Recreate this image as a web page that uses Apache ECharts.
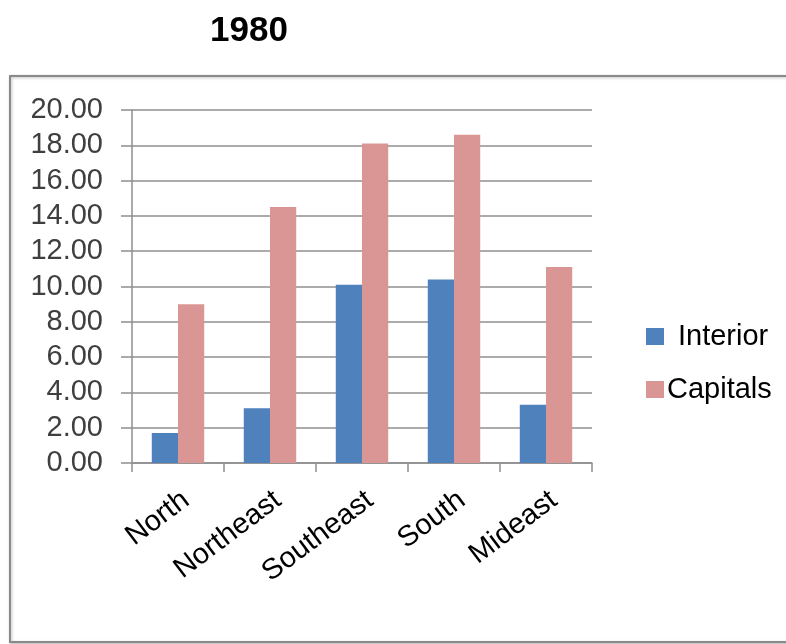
<!DOCTYPE html>
<html>
<head>
<meta charset="utf-8">
<script src="https://cdn.jsdelivr.net/npm/echarts@6/dist/echarts.min.js"></script>
<style>
  html, body { margin: 0; padding: 0; background: #ffffff; }
  #chart { width: 786px; height: 644px; }
</style>
</head>
<body>
<div id="chart"></div>
<script>
// Regions and the two series plotted for 1980
const regions = ['North', 'Northeast', 'Southeast', 'South', 'Mideast'];
const interior = [1.7, 3.1, 10.1, 10.4, 3.3];
const capitals = [9.0, 14.5, 18.1, 18.6, 11.1];
const chartTitle = '1980';

const FONT = '"Liberation Sans", Arial, sans-serif';
const GRID_GRAY = '#8f8f8f';

const chart = echarts.init(document.getElementById('chart'), null, { renderer: 'canvas' });

chart.setOption({
  backgroundColor: '#ffffff',
  animation: false,
  title: {
    text: chartTitle,
    left: 205,
    top: 9,
    textStyle: { fontFamily: FONT, fontSize: 35, fontWeight: 'bold', color: '#000000' }
  },
  graphic: [{
    type: 'rect',
    z: -10,
    silent: true,
    shape: { x: 10, y: 76, width: 800, height: 566 },
    style: {
      fill: '#ffffff',
      stroke: '#8a8a8a',
      lineWidth: 2,
      shadowColor: 'rgba(0,0,0,0.25)',
      shadowBlur: 3,
      shadowOffsetX: 1,
      shadowOffsetY: 1
    }
  }],
  legend: {
    orient: 'vertical',
    left: 641,
    top: 317,
    itemWidth: 18,
    itemHeight: 17,
    itemGap: 24,
    icon: 'rect',
    textStyle: { fontFamily: FONT, fontSize: 29, color: '#000000' },
    data: [
      { name: 'Interior', textStyle: { padding: [0, 0, 0, 9] } },
      { name: 'Capitals', textStyle: { padding: [0, 0, 0, -2] } }
    ]
  },
  grid: { left: 132, right: 194, top: 110, bottom: 181, containLabel: false },
  xAxis: {
    type: 'category',
    data: regions,
    axisLine: { show: true, lineStyle: { color: GRID_GRAY, width: 1.5 } },
    axisTick: { show: true, length: 9, lineStyle: { color: GRID_GRAY, width: 1.5 } },
    axisLabel: {
      rotate: 37,
      margin: 40,
      interval: 0,
      padding: [0, -10, 0, 0],
      fontFamily: FONT,
      fontSize: 29,
      color: '#000000'
    }
  },
  yAxis: {
    type: 'value',
    min: 0,
    max: 20,
    interval: 2,
    axisLine: { show: true, lineStyle: { color: GRID_GRAY, width: 1.5 } },
    axisTick: { show: true, length: 11, lineStyle: { color: GRID_GRAY, width: 1.5 } },
    splitLine: { show: true, lineStyle: { color: GRID_GRAY, width: 1.5 } },
    axisLabel: {
      margin: 29,
      fontFamily: FONT,
      fontSize: 29,
      color: '#3f3f3f',
      formatter: function (v) { return v.toFixed(2); }
    }
  },
  series: [
    {
      name: 'Interior',
      type: 'bar',
      data: interior,
      barGap: '0%',
      barCategoryGap: '43%',
      itemStyle: { color: '#4F81BD' }
    },
    {
      name: 'Capitals',
      type: 'bar',
      data: capitals,
      barGap: '0%',
      barCategoryGap: '43%',
      itemStyle: { color: '#D99694' }
    }
  ]
});
</script>
</body>
</html>
